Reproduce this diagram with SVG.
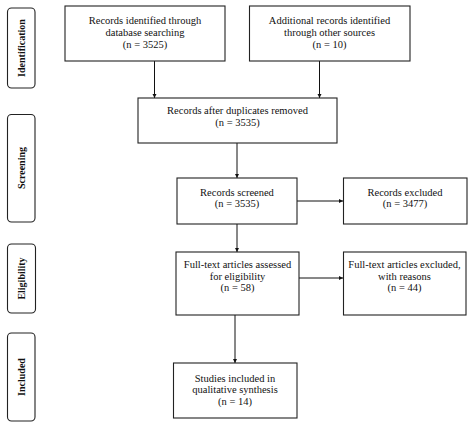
<svg xmlns="http://www.w3.org/2000/svg" width="474" height="425" viewBox="0 0 474 425">
<defs>
<marker id="ah" viewBox="0 0 8 8" refX="8" refY="4" markerWidth="4.5" markerHeight="4.5" orient="auto" markerUnits="userSpaceOnUse">
<path d="M0,0 L8,4 L0,8 z" fill="#111"/>
</marker>
<style>
.box{fill:#fff;stroke:#222;stroke-width:1.1}
.lab{fill:#fff;stroke:#222;stroke-width:1.1}
.t{font-family:"Liberation Serif","Times New Roman",serif;font-size:10.5px;fill:#111;text-anchor:middle}
.s{font-family:"Liberation Serif","Times New Roman",serif;font-size:10px;font-weight:bold;fill:#111;text-anchor:middle}
.c{stroke:#111;stroke-width:1;fill:none;marker-end:url(#ah)}
</style>
</defs>
<rect width="474" height="425" fill="#fff"/>
<g id="stage-identification"><rect class="lab" x="7.5" y="8" width="27.5" height="80" rx="4"/><text class="s" transform="translate(24.5,48) rotate(-90)">Identification</text></g>
<g id="stage-screening"><rect class="lab" x="7.5" y="114.5" width="27.5" height="107.5" rx="4"/><text class="s" transform="translate(24.5,168) rotate(-90)">Screening</text></g>
<g id="stage-eligibility"><rect class="lab" x="7.5" y="244" width="28" height="69" rx="4"/><text class="s" transform="translate(24.5,278.5) rotate(-90)">Eligibility</text></g>
<g id="stage-included"><rect class="lab" x="7.5" y="333" width="27.5" height="88" rx="4"/><text class="s" transform="translate(24.5,377) rotate(-90)">Included</text></g>
<g id="connectors">
<line class="c" x1="154.5" y1="61" x2="154.5" y2="98"/>
<line class="c" x1="319.5" y1="61" x2="319.5" y2="98"/>
<line class="c" x1="237" y1="143" x2="237" y2="178"/>
<line class="c" x1="297" y1="201" x2="343" y2="201"/>
<line class="c" x1="237" y1="224" x2="237" y2="252"/>
<line class="c" x1="299" y1="278" x2="343" y2="278"/>
<line class="c" x1="235" y1="315" x2="235" y2="363"/>
</g>
<g id="n-db"><rect class="box" x="65" y="6" width="160" height="55"/><text class="t" x="145" y="23.5">Records identified  through</text><text class="t" x="145" y="35.5">database  searching</text><text class="t" x="145" y="47.5">(n = 3525)</text></g>
<g id="n-other"><rect class="box" x="249.5" y="6" width="160.5" height="55"/><text class="t" x="329.5" y="23.5">Additional  records identified</text><text class="t" x="329.5" y="35.5">through other sources</text><text class="t" x="329.5" y="47.5">(n = 10)</text></g>
<g id="n-dup"><rect class="box" x="138" y="98" width="199" height="45"/><text class="t" x="237.5" y="113.5">Records after  duplicates  removed</text><text class="t" x="237.5" y="125.5">(n = 3535)</text></g>
<g id="n-screened"><rect class="box" x="177" y="178" width="120" height="46"/><text class="t" x="237" y="195.5">Records screened</text><text class="t" x="237" y="207">(n = 3535)</text></g>
<g id="n-excluded"><rect class="box" x="343.5" y="178" width="123.5" height="46"/><text class="t" x="405" y="195.5">Records excluded</text><text class="t" x="405" y="207">(n = 3477)</text></g>
<g id="n-fulltext"><rect class="box" x="176" y="252" width="123" height="63"/><text class="t" x="237.5" y="267.5">Full-text  articles  assessed</text><text class="t" x="237.5" y="279.5">for eligibility</text><text class="t" x="237.5" y="291">(n = 58)</text></g>
<g id="n-ftexcluded"><rect class="box" x="343.5" y="252" width="122.5" height="63"/><text class="t" x="404.5" y="267.5">Full-text  articles  excluded,</text><text class="t" x="404.5" y="279.5">with reasons</text><text class="t" x="404.5" y="291">(n = 44)</text></g>
<g id="n-included"><rect class="box" x="173.5" y="363" width="123.5" height="55"/><text class="t" x="235" y="381.5">Studies included  in</text><text class="t" x="235" y="393">qualitative  synthesis</text><text class="t" x="235" y="404.5">(n = 14)</text></g>
</svg>
